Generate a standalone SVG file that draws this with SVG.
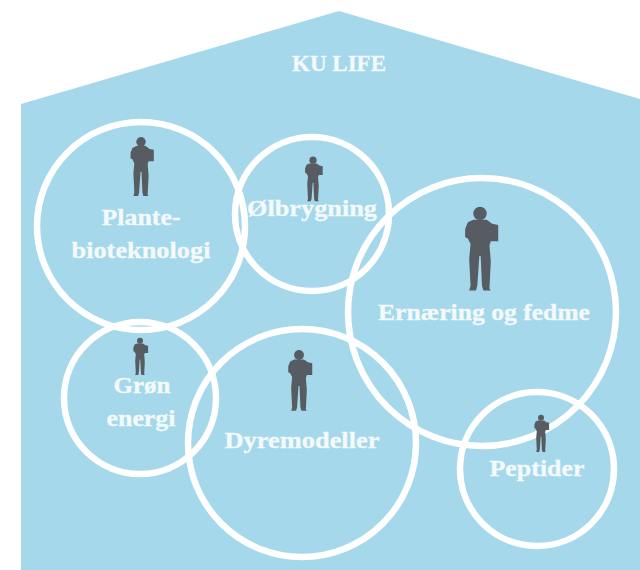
<svg xmlns="http://www.w3.org/2000/svg" width="640" height="570" viewBox="0 0 640 570">
<style>
.c{fill:none;stroke:#fff;stroke-width:6.500}
text{font-family:"Liberation Serif","DejaVu Serif",serif;font-weight:bold;font-size:23px;fill:#f4fafc;stroke:#f4fafc;stroke-width:.3;text-anchor:middle}
.p{fill:#565c62}
</style>
<defs>
<g id="person">
<circle cx="0" cy="-25.500" r="5"/>
<path d="M-5 -21 L5 -21 L9 -18 L13.500 -17 L13.500 -5 L8 -5 L7 -2 L8 10 L7 30 L8 31.500 L2.500 31.500 L1.500 28 L0.500 6 L-0.500 6 L-2 28 L-3 31.500 L-8 31.500 L-7 28 L-8 8 L-7 -3 L-9 -7 L-11 -8 L-11 -14 L-9 -19 Z"/>
</g>
</defs>
<rect width="640" height="570" fill="#fff"/>
<path d="M21 104 L339 11 L640 99 L640 570 L21 570 Z" fill="#a5d8ea"/>
<text x="339" y="71" textLength="94" lengthAdjust="spacingAndGlyphs">KU LIFE</text>
<g id="connectors"></g>
<g id="plante"><circle class="c" cx="141" cy="226" r="104"/><use href="#person" class="p" transform="translate(141,166) scale(.95)"/><text x="141" y="225" textLength="79" lengthAdjust="spacingAndGlyphs">Plante-</text><text x="141" y="258" textLength="139" lengthAdjust="spacingAndGlyphs">bioteknologi</text></g>
<g id="ol"><circle class="c" cx="312" cy="214" r="77"/><use href="#person" class="p" transform="translate(313,178.500) scale(.72)"/><text x="312" y="216" textLength="130" lengthAdjust="spacingAndGlyphs">Ølbrygning</text></g>
<g id="ernaering"><circle class="c" cx="482" cy="312" r="134"/><use href="#person" class="p" transform="translate(480,248) scale(1.35)"/><text x="484" y="320" textLength="212" lengthAdjust="spacingAndGlyphs">Ernæring og fedme</text></g>
<g id="gron"><circle class="c" cx="140" cy="398" r="76"/><use href="#person" class="p" transform="translate(140,356) scale(.6)"/><text x="142" y="393" textLength="57" lengthAdjust="spacingAndGlyphs">Grøn</text><text x="141" y="426" textLength="69" lengthAdjust="spacingAndGlyphs">energi</text></g>
<g id="dyre"><circle class="c" cx="302" cy="443" r="114"/><use href="#person" class="p" transform="translate(299,380) scale(.98)"/><text x="302" y="448" textLength="155" lengthAdjust="spacingAndGlyphs">Dyremodeller</text></g>
<g id="peptider"><circle class="c" cx="537" cy="469" r="77"/><use href="#person" class="p" transform="translate(541,433) scale(.6)"/><text x="537" y="476" textLength="95" lengthAdjust="spacingAndGlyphs">Peptider</text></g>
</svg>
